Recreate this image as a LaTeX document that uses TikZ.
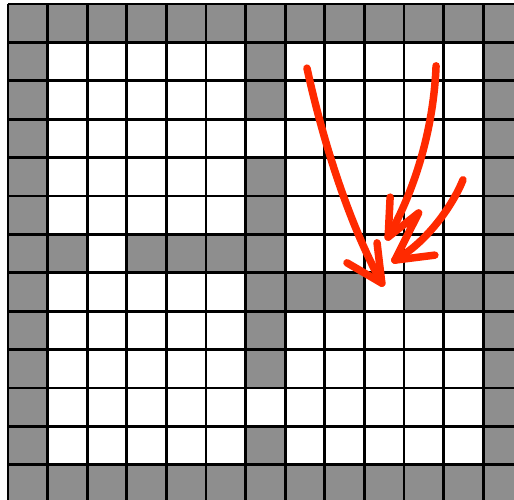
\documentclass[tikz,border=0pt]{standalone}
\usepackage{xcolor}
\usetikzlibrary{calc}
\definecolor{WallGray}{HTML}{8E8E8E}
\definecolor{PenRed}{HTML}{FF2A00}

\begin{document}
\begin{tikzpicture}[x=39.6pt,y=-38.4pt,
    wall/.style={fill=WallGray},
    gridline/.style={black, line width=2.8pt},
    pen/.style={PenRed, line width=7.5pt, line cap=round, line join=round}]
    \useasboundingbox (-0.202,-0.104) rectangle (12.778,12.917);
    \begin{scope}
        \clip (-0.202,-0.104) rectangle (12.778,12.917);
        \fill[white] (-0.202,-0.104) rectangle (12.778,12.917);

        % outer wall
        \foreach \k in {0,...,12} {
            \fill[wall] (\k,0) rectangle ++(1,1);
            \fill[wall] (\k,12) rectangle ++(1,1);
            \fill[wall] (0,\k) rectangle ++(1,1);
            \fill[wall] (12,\k) rectangle ++(1,1);
        }
        % inner walls with doorways
        \foreach \j in {1,2,4,5,6,7,8,9,11} \fill[wall] (6,\j) rectangle ++(1,1);
        \foreach \i in {1,3,4,5} \fill[wall] (\i,6) rectangle ++(1,1);
        \foreach \i in {7,8,10,11} \fill[wall] (\i,7) rectangle ++(1,1);

        \foreach \k in {0,...,13} {
            \draw[gridline] (\k,0) -- (\k,13);
            \draw[gridline] (0,\k) -- (13,\k);
        }
    \end{scope}

    \coordinate (startA) at (7.55,1.67);
    \coordinate (tipA) at (9.44,7.27);
    \coordinate (startB) at (10.81,1.61);
    \coordinate (tipB) at (9.60,6.07);
    \coordinate (startC) at (11.49,4.58);
    \coordinate (tipC) at (9.77,6.67);
    \coordinate (kink) at (10.37,5.44);

    \draw[pen] (startA) .. controls (8.0,3.8) and (8.7,5.9) .. (tipA);
    \draw[pen] (8.56,6.74) -- (tipA) -- (9.32,6.22);

    \draw[pen] (startB) .. controls (10.75,3.2) and (10.3,4.8) .. (tipB);
    \draw[pen] (9.65,5.03) -- (tipB) -- (kink) -- (tipC);

    \draw[pen] (startC) .. controls (11.25,5.2) and (10.6,6.2) .. (tipC);
    \draw[pen] (tipC) -- (10.78,6.54);
\end{tikzpicture}
\end{document}
